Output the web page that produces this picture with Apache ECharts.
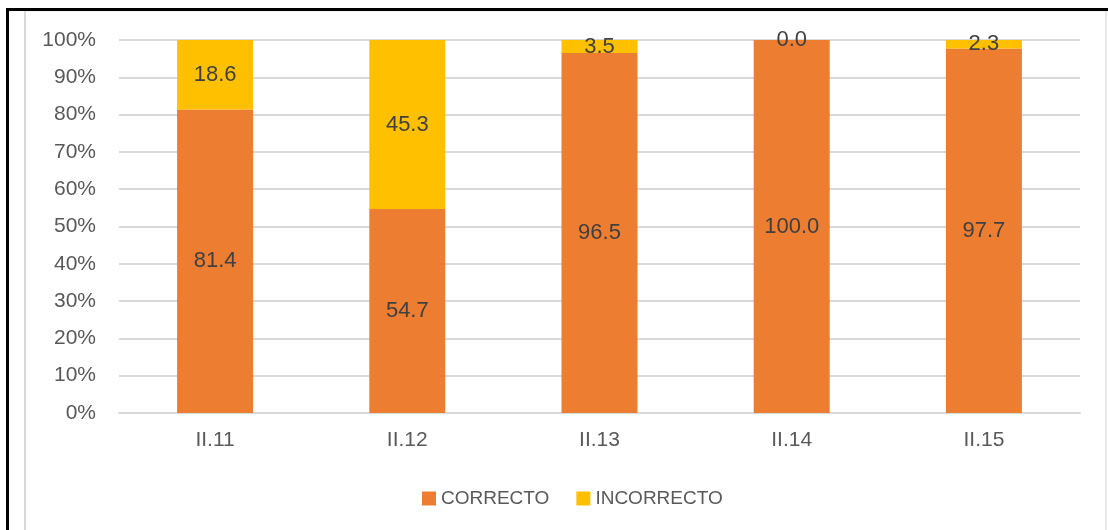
<!DOCTYPE html>
<html>
<head>
<meta charset="utf-8">
<script src="https://cdn.jsdelivr.net/npm/echarts@6/dist/echarts.min.js"></script>
<style>
html,body{margin:0;padding:0;background:#fff;}
#c{width:1108px;height:530px;}
</style>
</head>
<body>
<div id="c"></div>
<script>
var categories = ['II.11', 'II.12', 'II.13', 'II.14', 'II.15'];
var correcto = [81.4, 54.7, 96.5, 100.0, 97.7];
var incorrecto = [18.6, 45.3, 3.5, 0.0, 2.3];
var seriesNames = ['CORRECTO', 'INCORRECTO'];

var FONT = '"Liberation Sans", Arial, sans-serif';
var chart = echarts.init(document.getElementById('c'));
var labelStyle = {
  show: true, position: 'inside', color: '#404040', fontSize: 22, fontFamily: FONT,
  formatter: function (p) { return p.value.toFixed(1); }
};
chart.setOption({
  animation: false,
  grid: { left: 119, right: 28, top: 40, bottom: 117, containLabel: false },
  graphic: [
    { type: 'line', shape: { x1: 25, y1: 11, x2: 25, y2: 530 }, style: { stroke: '#d9d9d9', lineWidth: 2 } },
    { type: 'line', shape: { x1: 25, y1: 11, x2: 1108, y2: 11 }, style: { stroke: '#e6e6e6', lineWidth: 1 } },
    { type: 'line', shape: { x1: 1106, y1: 11, x2: 1106, y2: 530 }, style: { stroke: '#e0e0e0', lineWidth: 1.5 } },
    { type: 'line', shape: { x1: 7.5, y1: 9.5, x2: 7.5, y2: 530 }, style: { stroke: '#000', lineWidth: 3 } },
    { type: 'line', shape: { x1: 6, y1: 9.5, x2: 1108, y2: 9.5 }, style: { stroke: '#000', lineWidth: 3 } }
  ],
  legend: {
    data: seriesNames, left: 417, top: 484, itemWidth: 14, itemHeight: 14, itemGap: 27,
    icon: 'rect',
    textStyle: { color: '#595959', fontSize: 19, fontFamily: FONT }
  },
  xAxis: {
    type: 'category', data: categories,
    axisLine: { lineStyle: { color: '#d9d9d9', width: 2 } },
    axisTick: { show: false },
    axisLabel: { color: '#595959', fontSize: 21, fontFamily: FONT, margin: 17 }
  },
  yAxis: {
    type: 'value', min: 0, max: 100, interval: 10,
    axisLine: { show: false }, axisTick: { show: false },
    splitLine: { lineStyle: { color: '#d9d9d9', width: 2 } },
    axisLabel: { color: '#595959', fontSize: 21, fontFamily: FONT, margin: 23, formatter: '{value}%' }
  },
  series: [
    { name: seriesNames[0], type: 'bar', stack: 't', data: correcto, barWidth: 76,
      itemStyle: { color: '#ED7D31' }, label: labelStyle },
    { name: seriesNames[1], type: 'bar', stack: 't', data: incorrecto, barWidth: 76,
      itemStyle: { color: '#FFC000' }, label: labelStyle }
  ]
});
</script>
</body>
</html>
